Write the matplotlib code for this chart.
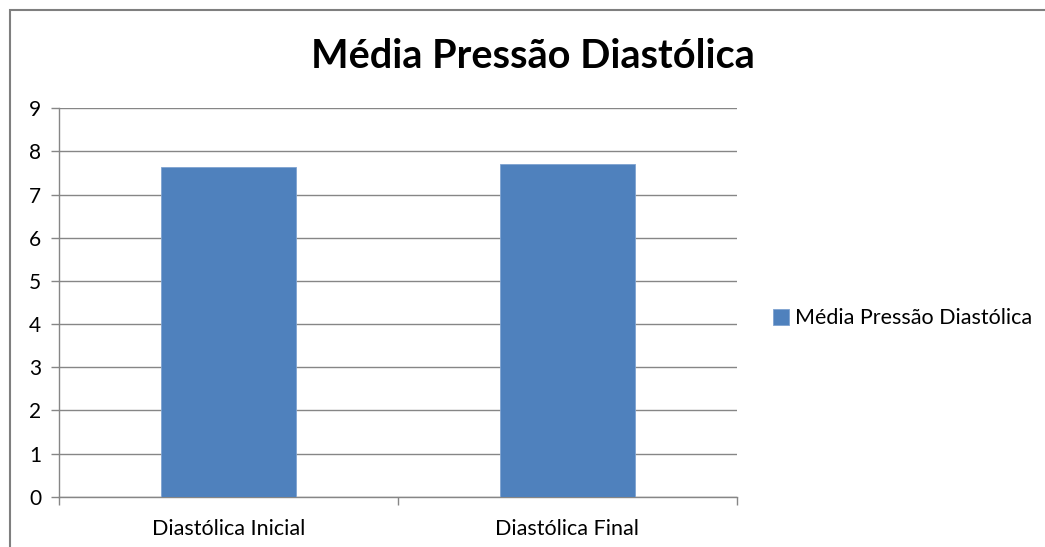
import matplotlib
matplotlib.use("Agg")
import matplotlib.pyplot as plt
from matplotlib.patches import Rectangle

categories = ["Diastólica Inicial", "Diastólica Final"]
values = [7.65, 7.72]
series_name = "Média Pressão Diastólica"
chart_title = "Média Pressão Diastólica"
y_ticks = list(range(0, 10))

plt.rcParams['font.family'] = ['Lato', 'DejaVu Sans']

fig = plt.figure(figsize=(10.45, 5.47), dpi=100)
ax = fig.add_axes([0.0567, 0.092, 0.6483, 0.710])

grid_col = "#868686"
bar_col = "#4F81BD"

x = list(range(len(categories)))
ax.bar(x, values, width=0.4, color=bar_col, edgecolor="#7FA3D0", linewidth=0.6,
       label=series_name, zorder=3)

ax.set_xlim(-0.5, len(categories) - 0.5)
ax.set_ylim(0, 9)
ax.set_yticks(y_ticks)
ax.set_yticklabels([str(t) for t in y_ticks], fontsize=15, color="#000000")
ax.yaxis.grid(True, color=grid_col, linewidth=1.0, zorder=0)
ax.tick_params(axis="y", length=6, width=1, color=grid_col, pad=7)

ax.set_xticks(x)
ax.set_xticklabels(categories, fontsize=15.5)
ax.set_xticks([i - 0.5 for i in range(len(categories) + 1)], minor=True)
ax.tick_params(axis="x", which="major", length=0, pad=16)
ax.tick_params(axis="x", which="minor", length=6, width=1, color=grid_col)

for side in ["top", "right"]:
    ax.spines[side].set_visible(False)
for side in ["left", "bottom"]:
    ax.spines[side].set_color(grid_col)
    ax.spines[side].set_linewidth(1.0)

fig.text(0.510, 0.897, chart_title, ha="center", va="center",
         fontsize=28.5, fontweight="bold")

fig.legend(loc="center left", bbox_to_anchor=(0.721, 0.418), frameon=False,
           fontsize=15.5, handlelength=0.75, handleheight=0.75, handletextpad=0.3)

# outer chart border
fig.add_artist(Rectangle((10 / 1045, -0.1), 1.2, 1 - 10 / 547 + 0.1,
                         transform=fig.transFigure, fill=False,
                         edgecolor="#7F7F7F", linewidth=1.5))

fig.savefig("out.png", dpi=100)
